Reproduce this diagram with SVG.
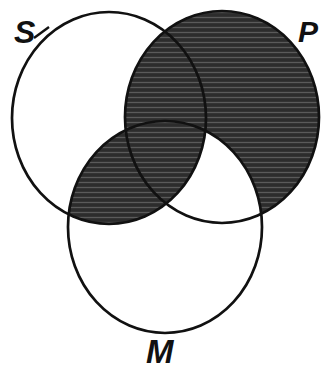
<svg xmlns="http://www.w3.org/2000/svg" width="323" height="372" viewBox="0 0 323 372">
<style>
.c{fill:none;stroke:#111;stroke-width:2.7}
.lbl{font-family:"Liberation Sans",Arial,sans-serif;font-weight:bold;font-style:italic;fill:#111}
</style>
<defs>
<pattern id="hatch" patternUnits="userSpaceOnUse" width="12" height="5">
<rect width="12" height="5" fill="#2c2c2c"/>
<line x1="0" y1="2.5" x2="12" y2="2.5" stroke="#5a5a5a" stroke-width="1.3"/>
</pattern>
<clipPath id="clipS"><ellipse cx="109" cy="118" rx="97" ry="106"/></clipPath>
<mask id="notMonly">
<rect width="323" height="372" fill="#fff"/>
<ellipse cx="165" cy="227" rx="97" ry="106" fill="#000"/>
<ellipse cx="109" cy="118" rx="97" ry="106" fill="#fff"/>
</mask>
</defs>
<g id="shading">
<ellipse cx="222" cy="117" rx="97" ry="106" fill="url(#hatch)" mask="url(#notMonly)"/>
<ellipse cx="165" cy="227" rx="97" ry="106" fill="url(#hatch)" clip-path="url(#clipS)"/>
</g>
<g id="S"><ellipse class="c" cx="109" cy="118" rx="97" ry="106"/><text class="lbl" x="14" y="43" font-size="32">S</text></g>
<g id="P"><ellipse class="c" cx="222" cy="117" rx="97" ry="106"/><text class="lbl" x="298" y="42" font-size="30">P</text></g>
<g id="M"><ellipse class="c" cx="165" cy="227" rx="97" ry="106"/><text class="lbl" x="146" y="363" font-size="33">M</text></g>
<g id="connectors">
<line x1="34" y1="38" x2="49" y2="27" stroke="#111" stroke-width="2.4"/>
</g>
</svg>
